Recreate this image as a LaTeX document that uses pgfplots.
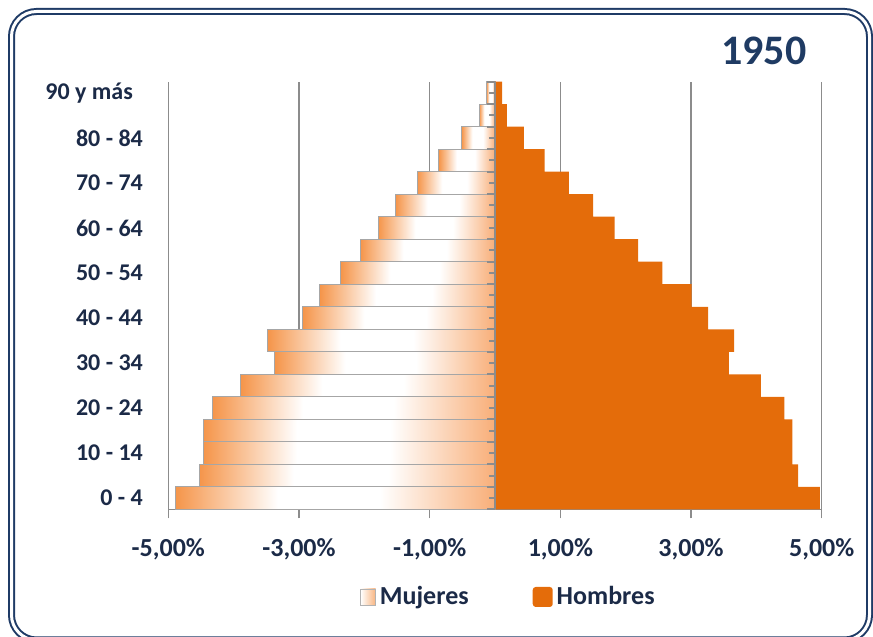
\documentclass[border=0pt]{standalone}
\usepackage{pgfplots}
\pgfplotsset{compat=1.18}
\usepackage{fontspec}
\setmainfont{Carlito}
\definecolor{men}{HTML}{E46C0A}
\definecolor{wl}{HTML}{F5954A}
\definecolor{wr}{HTML}{F8AE78}
\definecolor{gridc}{HTML}{8C8C8C}
\definecolor{txt}{HTML}{1B2A47}
\definecolor{ttl}{HTML}{1F3B63}
\definecolor{frame}{HTML}{1F3B66}
\pgfdeclarehorizontalshading{women}{100bp}{color(0bp)=(wl); color(25bp)=(wl); color(41bp)=(white); color(57bp)=(white); color(75bp)=(wr); color(100bp)=(wr)}
\pgfplotsset{wbar/.style={xbar, bar width=1, bar shift=0pt, draw=gray!70, line width=0.5pt, shading=women, forget plot}}
\begin{document}
\begin{tikzpicture}
\useasboundingbox (0pt,0pt) rectangle (436.5pt,318.5pt);
\draw[frame, line width=1pt, double=white, double distance=1.5pt, rounded corners=12.5pt] (5.75pt,-1.5pt) rectangle (434.75pt,312.75pt);
\node[ttl, anchor=base, font=\fontsize{21}{25}\selectfont\bfseries] at (381.95pt,286pt) {1950};
\begin{axis}[
  at={(84.15pt,63.85pt)}, anchor=south west,
  scale only axis, width=326.7pt, height=213.8pt,
  xmin=-5, xmax=5, ymin=-0.5, ymax=18.5,
  axis x line*=bottom, axis y line*=left,
  y axis line style={draw=none},
  x axis line style={gridc, line width=0.75pt},
  xtick={-5,-3,-1,1,3,5},
  xticklabels={{-5,00\%},{-3,00\%},{-1,00\%},{1,00\%},{3,00\%},{5,00\%}},
  xmajorgrids, major grid style={gridc, line width=0.75pt},
  tick align=outside, major tick length=4.5pt,
  xtick style={gridc, line width=0.75pt},
  ytick={0,2,...,18},
  yticklabels={0 - 4,10 - 14,20 - 24,30 - 34,40 - 44,50 - 54,60 - 64,70 - 74,80 - 84,90 y más\hspace*{5pt}},
  ytick style={draw=none},
  tick label style={txt},
  yticklabel style={font=\fontsize{12}{14}\selectfont\bfseries, inner sep=0pt, xshift=-8pt},
  xticklabel style={font=\fontsize{13}{15}\selectfont\bfseries, yshift=-6.5pt},
  legend style={draw=none, fill=none, at={(0.522,-0.205)}, anchor=center,
    font=\fontsize{13}{15}\selectfont\bfseries, text=txt,
    /tikz/every even column/.append style={column sep=30pt}},
  legend columns=2,
]
% Mujeres (one plot per age group so that each bar carries its own gradient)
\addplot[xbar, bar width=1, bar shift=0pt, draw=gray!70, line width=0.5pt, shading=women,
  legend image code/.code={\draw[gray!60, line width=0.4pt, left color=white, right color=wl!70] (0pt,-4pt) rectangle (7.5pt,4pt);}]
  coordinates {(-4.89,0)};
\addlegendentry{Mujeres}
\addplot[wbar] coordinates {(-4.53,1)};
\addplot[wbar] coordinates {(-4.46,2)};
\addplot[wbar] coordinates {(-4.46,3)};
\addplot[wbar] coordinates {(-4.32,4)};
\addplot[wbar] coordinates {(-3.89,5)};
\addplot[wbar] coordinates {(-3.37,6)};
\addplot[wbar] coordinates {(-3.48,7)};
\addplot[wbar] coordinates {(-2.94,8)};
\addplot[wbar] coordinates {(-2.68,9)};
\addplot[wbar] coordinates {(-2.36,10)};
\addplot[wbar] coordinates {(-2.06,11)};
\addplot[wbar] coordinates {(-1.79,12)};
\addplot[wbar] coordinates {(-1.52,13)};
\addplot[wbar] coordinates {(-1.19,14)};
\addplot[wbar] coordinates {(-0.86,15)};
\addplot[wbar] coordinates {(-0.51,16)};
\addplot[wbar] coordinates {(-0.24,17)};
\addplot[wbar] coordinates {(-0.13,18)};
% Hombres
\addplot[xbar, bar width=1, bar shift=0pt, fill=men, draw=none,
  legend image code/.code={\fill[men, rounded corners=1.5pt] (0pt,-5pt) rectangle (10pt,5pt);}]
coordinates {
(4.97,0) (4.64,1) (4.55,2) (4.55,3) (4.43,4) (4.07,5) (3.58,6) (3.66,7) (3.26,8) (3.01,9)
(2.56,10) (2.19,11) (1.83,12) (1.50,13) (1.13,14) (0.76,15) (0.44,16) (0.18,17) (0.11,18)
};
\addlegendentry{Hombres}
\draw[gridc, line width=1pt] (axis cs:0,-0.5) -- (axis cs:0,18.5);
\pgfplotsinvokeforeach{-0.5,0.5,...,18.5}{\draw[gridc, line width=1pt] (axis cs:0,#1) -- ++(-3.85pt,0pt);}
\pgfplotsinvokeforeach{0,1,...,18}{\draw[gridc, line width=1pt] (axis cs:0,#1) -- ++(-2.85pt,0pt);}
\end{axis}
\end{tikzpicture}
\end{document}
